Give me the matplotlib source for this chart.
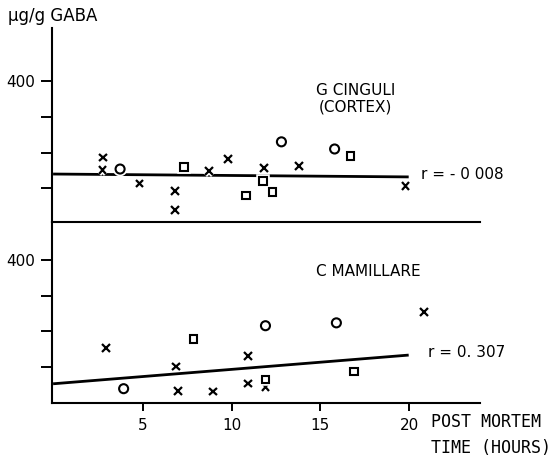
import matplotlib.pyplot as plt
import matplotlib.patheffects as pe

# G cinguli (cortex): hours post mortem vs GABA, by marker group
cing_x_hours = [2.75, 2.7, 4.8, 6.8, 6.8, 8.7, 9.8, 11.8, 13.8, 19.8]
cing_x_gaba = [293, 276, 257, 246, 220, 274, 291, 278, 281, 253]
cing_o_hours = [3.7, 12.8, 15.8]
cing_o_gaba = [277, 315, 305]
cing_s_hours = [7.3, 10.8, 11.75, 12.3, 16.7]
cing_s_gaba = [280, 240, 260, 245, 295]
cing_fit = [270, -0.2]   # intercept, slope
cing_r = '- 0 008'

# C mamillare
mam_x_hours = [2.9, 6.85, 6.95, 8.95, 10.9, 10.9, 11.9, 20.85]
mam_x_gaba = [277, 251, 217, 216, 266, 227, 222, 327]
mam_o_hours = [3.9, 11.9, 15.9]
mam_o_gaba = [220, 308, 312]
mam_s_hours = [7.85, 11.9, 16.9]
mam_s_gaba = [289, 233, 244]
mam_fit = [227, 2.0]
mam_r = '0. 307'

xticks = [5, 10, 15, 20]
yticks = [250, 300, 350, 400]
ylabels = ['', '', '', '400']

fig = plt.figure(figsize=(5.58, 4.63), dpi=100)
top = fig.add_axes([0.0932, 0.5205, 0.767, 0.419])
bot = fig.add_axes([0.0932, 0.1296, 0.767, 0.391])

halo = [pe.Stroke(linewidth=4, foreground='white'), pe.Normal()]


def panel(ax, xs, os_, ss, fit, ylim):
    ax.set_facecolor('none')
    ax.set_xlim(-0.14, 24)
    ax.set_ylim(*ylim)
    x0, x1 = 0, 19.9
    ax.plot([x0, x1], [fit[0] + fit[1] * x0, fit[0] + fit[1] * x1],
            color='black', lw=2.0, zorder=2)
    ax.plot(xs[0], xs[1], 'x', color='black', ms=5.5, mew=1.6,
            zorder=3, path_effects=halo)
    ax.plot(os_[0], os_[1], 'o', color='black', mfc='white', ms=6.5,
            mew=1.5, zorder=3, path_effects=halo)
    ax.plot(ss[0], ss[1], 's', color='black', mfc='white', ms=5.5,
            mew=1.5, zorder=3, path_effects=halo)
    for s in ['top', 'right']:
        ax.spines[s].set_visible(False)
    ax.spines['left'].set_linewidth(1.5)
    ax.spines['bottom'].set_linewidth(1.5)
    ax.set_yticks(yticks)
    ax.set_yticklabels(ylabels, fontsize=11)
    ax.tick_params(axis='y', direction='out', length=8, width=1.4, pad=4)


panel(top, (cing_x_hours, cing_x_gaba), (cing_o_hours, cing_o_gaba),
      (cing_s_hours, cing_s_gaba), cing_fit, (203, 474))
panel(bot, (mam_x_hours, mam_x_gaba), (mam_o_hours, mam_o_gaba),
      (mam_s_hours, mam_s_gaba), mam_fit, (200, 453))

top.set_xticks([])
bot.set_xticks(xticks)
bot.set_xticklabels([str(t) for t in xticks], fontsize=11)
bot.tick_params(axis='x', direction='out', length=6, width=1.4, pad=5)

top.text(17.0, 387, 'G CINGULI', fontsize=11, ha='center', va='center')
top.text(17.0, 364, '(CORTEX)', fontsize=11, ha='center', va='center')
top.text(20.7, 269, 'r = ' + cing_r, fontsize=11, ha='left', va='center')

bot.text(17.7, 384, 'C MAMILLARE', fontsize=11, ha='center', va='center')
bot.text(21.05, 270, 'r = ' + mam_r, fontsize=11, ha='left', va='center')

fig.text(0.014, 0.965, 'μg/g GABA', fontsize=12, ha='left', va='center')
fig.text(0.772, 0.089, 'POST MORTEM', family='DejaVu Sans Mono',
         fontsize=12, ha='left', va='center')
fig.text(0.772, 0.032, 'TIME (HOURS)', family='DejaVu Sans Mono',
         fontsize=12, ha='left', va='center')

fig.savefig('out.png', dpi=100)
